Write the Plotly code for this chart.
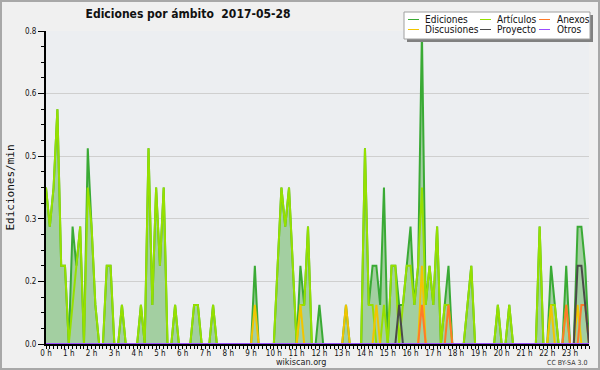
import plotly.graph_objects as go

# ---------------- data (10-minute buckets, edits per minute) ----------------
hour_labels = [f"{h} h" for h in range(24)]
y_tick_values = [0.0, 0.16, 0.32, 0.48, 0.64, 0.8]
y_tick_labels = ["0.0", "0.2", "0.3", "0.5", "0.6", "0.8"]

ediciones = [
    0.4, 0.3, 0.4, 0.6, 0.2, 0.2, 0.0, 0.3, 0.2, 0.3, 0.0, 0.5,   # 00-02
    0.3, 0.1, 0.0, 0.0, 0.2, 0.2, 0.0, 0.0, 0.1, 0.0, 0.0, 0.0,   # 02-04
    0.0, 0.1, 0.0, 0.5, 0.1, 0.4, 0.2, 0.4, 0.0, 0.0, 0.1, 0.0,   # 04-06
    0.0, 0.0, 0.0, 0.1, 0.1, 0.0, 0.0, 0.0, 0.1, 0.0, 0.0, 0.0,   # 06-08
    0.0, 0.0, 0.0, 0.0, 0.0, 0.0, 0.0, 0.2, 0.0, 0.0, 0.0, 0.0,   # 08-10
    0.0, 0.2, 0.4, 0.3, 0.4, 0.2, 0.0, 0.2, 0.1, 0.3, 0.0, 0.0,   # 10-12
    0.1, 0.0, 0.0, 0.0, 0.0, 0.0, 0.0, 0.1, 0.0, 0.0, 0.0, 0.0,   # 12-14
    0.5, 0.1, 0.2, 0.2, 0.1, 0.4, 0.0, 0.2, 0.2, 0.1, 0.1, 0.2,   # 14-16
    0.3, 0.1, 0.2, 0.8, 0.1, 0.2, 0.1, 0.3, 0.0, 0.1, 0.2, 0.0,   # 16-18
    0.0, 0.0, 0.0, 0.1, 0.2, 0.0, 0.0, 0.0, 0.0, 0.0, 0.0, 0.1,   # 18-20
    0.0, 0.0, 0.1, 0.0, 0.0, 0.0, 0.0, 0.0, 0.0, 0.0, 0.3, 0.0,   # 20-22
    0.0, 0.2, 0.1, 0.0, 0.0, 0.2, 0.0, 0.0, 0.3, 0.3, 0.2, 0.0,   # 22-24
]
articulos = [
    0.4, 0.3, 0.4, 0.6, 0.2, 0.2, 0.0, 0.1, 0.2, 0.3, 0.0, 0.4,
    0.3, 0.1, 0.0, 0.0, 0.2, 0.2, 0.0, 0.0, 0.1, 0.0, 0.0, 0.0,
    0.0, 0.1, 0.0, 0.5, 0.1, 0.4, 0.2, 0.4, 0.0, 0.0, 0.1, 0.0,
    0.0, 0.0, 0.0, 0.1, 0.1, 0.0, 0.0, 0.0, 0.1, 0.0, 0.0, 0.0,
    0.0, 0.0, 0.0, 0.0, 0.0, 0.0, 0.0, 0.0, 0.0, 0.0, 0.0, 0.0,
    0.0, 0.2, 0.4, 0.3, 0.4, 0.2, 0.0, 0.1, 0.1, 0.3, 0.0, 0.0,
    0.0, 0.0, 0.0, 0.0, 0.0, 0.0, 0.0, 0.0, 0.0, 0.0, 0.0, 0.0,
    0.5, 0.1, 0.1, 0.0, 0.0, 0.1, 0.0, 0.2, 0.2, 0.0, 0.1, 0.2,
    0.2, 0.1, 0.2, 0.4, 0.1, 0.2, 0.1, 0.3, 0.0, 0.1, 0.1, 0.0,
    0.0, 0.0, 0.0, 0.1, 0.2, 0.0, 0.0, 0.0, 0.0, 0.0, 0.0, 0.1,
    0.0, 0.0, 0.1, 0.0, 0.0, 0.0, 0.0, 0.0, 0.0, 0.0, 0.3, 0.0,
    0.0, 0.1, 0.1, 0.0, 0.0, 0.1, 0.0, 0.0, 0.0, 0.0, 0.0, 0.0,
]
discusiones = [
    0.0, 0.0, 0.0, 0.0, 0.0, 0.0, 0.0, 0.0, 0.0, 0.0, 0.0, 0.0,
    0.0, 0.0, 0.0, 0.0, 0.0, 0.0, 0.0, 0.0, 0.0, 0.0, 0.0, 0.0,
    0.0, 0.0, 0.0, 0.0, 0.0, 0.0, 0.0, 0.0, 0.0, 0.0, 0.0, 0.0,
    0.0, 0.0, 0.0, 0.0, 0.0, 0.0, 0.0, 0.0, 0.0, 0.0, 0.0, 0.0,
    0.0, 0.0, 0.0, 0.0, 0.0, 0.0, 0.0, 0.1, 0.0, 0.0, 0.0, 0.0,
    0.0, 0.0, 0.0, 0.0, 0.0, 0.0, 0.0, 0.1, 0.0, 0.0, 0.0, 0.0,
    0.0, 0.0, 0.0, 0.0, 0.0, 0.0, 0.0, 0.1, 0.0, 0.0, 0.0, 0.0,
    0.0, 0.0, 0.0, 0.1, 0.0, 0.0, 0.0, 0.0, 0.0, 0.0, 0.0, 0.0,
    0.0, 0.0, 0.0, 0.2, 0.0, 0.0, 0.0, 0.0, 0.0, 0.0, 0.0, 0.0,
    0.0, 0.0, 0.0, 0.0, 0.0, 0.0, 0.0, 0.0, 0.0, 0.0, 0.0, 0.0,
    0.0, 0.0, 0.0, 0.0, 0.0, 0.0, 0.0, 0.0, 0.0, 0.0, 0.0, 0.0,
    0.0, 0.1, 0.0, 0.0, 0.0, 0.0, 0.0, 0.0, 0.1, 0.0, 0.0, 0.0,
]
anexos = [
    0.0, 0.0, 0.0, 0.0, 0.0, 0.0, 0.0, 0.0, 0.0, 0.0, 0.0, 0.0,
    0.0, 0.0, 0.0, 0.0, 0.0, 0.0, 0.0, 0.0, 0.0, 0.0, 0.0, 0.0,
    0.0, 0.0, 0.0, 0.0, 0.0, 0.0, 0.0, 0.0, 0.0, 0.0, 0.0, 0.0,
    0.0, 0.0, 0.0, 0.0, 0.0, 0.0, 0.0, 0.0, 0.0, 0.0, 0.0, 0.0,
    0.0, 0.0, 0.0, 0.0, 0.0, 0.0, 0.0, 0.0, 0.0, 0.0, 0.0, 0.0,
    0.0, 0.0, 0.0, 0.0, 0.0, 0.0, 0.0, 0.0, 0.0, 0.0, 0.0, 0.0,
    0.0, 0.0, 0.0, 0.0, 0.0, 0.0, 0.0, 0.0, 0.0, 0.0, 0.0, 0.0,
    0.0, 0.0, 0.0, 0.0, 0.0, 0.0, 0.0, 0.0, 0.0, 0.0, 0.0, 0.0,
    0.0, 0.0, 0.0, 0.1, 0.0, 0.0, 0.0, 0.0, 0.0, 0.0, 0.1, 0.0,
    0.0, 0.0, 0.0, 0.0, 0.0, 0.0, 0.0, 0.0, 0.0, 0.0, 0.0, 0.0,
    0.0, 0.0, 0.0, 0.0, 0.0, 0.0, 0.0, 0.0, 0.0, 0.0, 0.0, 0.0,
    0.0, 0.0, 0.0, 0.0, 0.0, 0.1, 0.0, 0.0, 0.0, 0.1, 0.1, 0.0,
]
proyecto = [
    0.0, 0.0, 0.0, 0.0, 0.0, 0.0, 0.0, 0.0, 0.0, 0.0, 0.0, 0.0,
    0.0, 0.0, 0.0, 0.0, 0.0, 0.0, 0.0, 0.0, 0.0, 0.0, 0.0, 0.0,
    0.0, 0.0, 0.0, 0.0, 0.0, 0.0, 0.0, 0.0, 0.0, 0.0, 0.0, 0.0,
    0.0, 0.0, 0.0, 0.0, 0.0, 0.0, 0.0, 0.0, 0.0, 0.0, 0.0, 0.0,
    0.0, 0.0, 0.0, 0.0, 0.0, 0.0, 0.0, 0.0, 0.0, 0.0, 0.0, 0.0,
    0.0, 0.0, 0.0, 0.0, 0.0, 0.0, 0.0, 0.0, 0.0, 0.0, 0.0, 0.0,
    0.0, 0.0, 0.0, 0.0, 0.0, 0.0, 0.0, 0.0, 0.0, 0.0, 0.0, 0.0,
    0.0, 0.0, 0.0, 0.0, 0.0, 0.0, 0.0, 0.0, 0.0, 0.1, 0.0, 0.0,
    0.0, 0.0, 0.0, 0.0, 0.0, 0.0, 0.0, 0.0, 0.0, 0.0, 0.0, 0.0,
    0.0, 0.0, 0.0, 0.0, 0.0, 0.0, 0.0, 0.0, 0.0, 0.0, 0.0, 0.0,
    0.0, 0.0, 0.0, 0.0, 0.0, 0.0, 0.0, 0.0, 0.0, 0.0, 0.0, 0.0,
    0.0, 0.0, 0.0, 0.0, 0.0, 0.0, 0.0, 0.0, 0.2, 0.2, 0.1, 0.0,
]
otros = [0.0] * 144

# bucket times in hours (bucket index / 6)
hours = [i / 6 for i in range(len(ediciones))]

# ---------------- styling ----------------
W, H = 600, 370
L, R, T, B = 46, 11, 31, 26
PW, PH = W - L - R, H - T - B
COND = "DejaVu Sans Condensed, DejaVu Sans"

def px(x):
    return (x - L) / PW

def py(y):
    return (H - B - y) / PH

colors = {
    "Ediciones": "#3aaa35",
    "Artículos": "#96e000",
    "Anexos": "#ff7a29",
    "Discusiones": "#f2c500",
    "Proyecto": "#4a4a4a",
    "Otros": "#9b4dff",
}

fig = go.Figure()
fig.add_trace(go.Scatter(x=hours, y=ediciones, name="Ediciones", mode="lines",
                         line=dict(color=colors["Ediciones"], width=2),
                         fill="tozeroy", fillcolor="#a3cfa1"))
for name, vals in [("Artículos", articulos), ("Discusiones", discusiones),
                   ("Anexos", anexos), ("Proyecto", proyecto), ("Otros", otros)]:
    fig.add_trace(go.Scatter(x=hours, y=vals, name=name, mode="lines",
                             line=dict(color=colors[name], width=2)))

shapes = []
annotations = []
# outer frame
shapes.append(dict(type="rect", xref="paper", yref="paper",
                   x0=px(1), x1=px(W - 1), y0=py(H - 1), y1=py(1),
                   line=dict(color="#a8a8a8", width=2), layer="below"))
# legend box with shadow
shapes.append(dict(type="rect", xref="paper", yref="paper",
                   x0=px(407), x1=px(593), y0=py(42), y1=py(15),
                   fillcolor="#808080", line=dict(width=0), layer="above"))
shapes.append(dict(type="rect", xref="paper", yref="paper",
                   x0=px(404), x1=px(590), y0=py(39), y1=py(12),
                   fillcolor="white", line=dict(color="#a0a0a0", width=1), layer="above"))
legend_rows = [["Ediciones", "Artículos", "Anexos"],
               ["Discusiones", "Proyecto", "Otros"]]
col_line_x = [408, 480, 539]
col_text_x = [423, 495, 555]
row_y = [19.5, 29.5]
for r, row in enumerate(legend_rows):
    for c, name in enumerate(row):
        shapes.append(dict(type="line", xref="paper", yref="paper",
                           x0=px(col_line_x[c]), x1=px(col_line_x[c] + 11),
                           y0=py(row_y[r]), y1=py(row_y[r]),
                           line=dict(color=colors[name], width=1), layer="above"))
        annotations.append(dict(text=name, xref="paper", yref="paper",
                                x=px(col_text_x[c]), y=py(row_y[r]),
                                xanchor="left", yanchor="middle", showarrow=False,
                                font=dict(family=COND, size=10, color="#111")))

annotations.append(dict(text="wikiscan.org", xref="paper", yref="paper",
                        x=px(300.5), y=py(362), xanchor="center", yanchor="middle",
                        showarrow=False, font=dict(family=COND, size=9, color="#222")))
annotations.append(dict(text="CC BY-SA 3.0", xref="paper", yref="paper",
                        x=px(589), y=py(362.5), xanchor="right", yanchor="middle",
                        showarrow=False, font=dict(family=COND, size=7, color="#333")))

fig.update_layout(
    width=W, height=H,
    margin=dict(l=L, r=R, t=T, b=B, autoexpand=False),
    paper_bgcolor="#f0f0f0",
    plot_bgcolor="#eceef1",
    showlegend=False,
    title=dict(text="Ediciones por ámbito\u00a0 2017-05-28",
               x=188 / W, xanchor="center", y=1 - 14 / H, yanchor="middle",
               font=dict(family=COND, size=12, color="#111", weight="bold")),
    xaxis=dict(range=[0, hours[-1]], tickmode="array", automargin=False,
               tickvals=list(range(24)), ticktext=hour_labels,
               ticks="outside", ticklen=3, tickwidth=1, tickcolor="black",
               ticklabelstandoff=-3,
               showline=True, linecolor="black", linewidth=2,
               showgrid=False, zeroline=False,
               tickfont=dict(family=COND, size=8, color="#111"),
               minor=dict(tick0=0, dtick=1 / 6, ticks="outside", ticklen=3,
                          tickwidth=1, tickcolor="black", showgrid=False),
               fixedrange=True),
    yaxis=dict(range=[0, 0.8], tickmode="array", automargin=False,
               tickvals=y_tick_values, ticktext=y_tick_labels,
               ticks="outside", ticklen=6, tickwidth=1, tickcolor="black",
               showline=True, linecolor="black", linewidth=2,
               showgrid=True, gridcolor="#cfcfcf", gridwidth=1, zeroline=False,
               tickfont=dict(family=COND, size=8, color="#111"),
               minor=dict(tick0=0, dtick=0.04, ticks="outside", ticklen=3,
                          tickwidth=1, tickcolor="black", showgrid=False),
               title=dict(text="Ediciones/min", standoff=8,
                          font=dict(family="DejaVu Sans Mono", size=11, color="#111")),
               fixedrange=True),
    shapes=shapes,
    annotations=annotations,
)

fig.write_html("out.html", config={"displayModeBar": False},
               post_script="document.body.style.margin='0';")
